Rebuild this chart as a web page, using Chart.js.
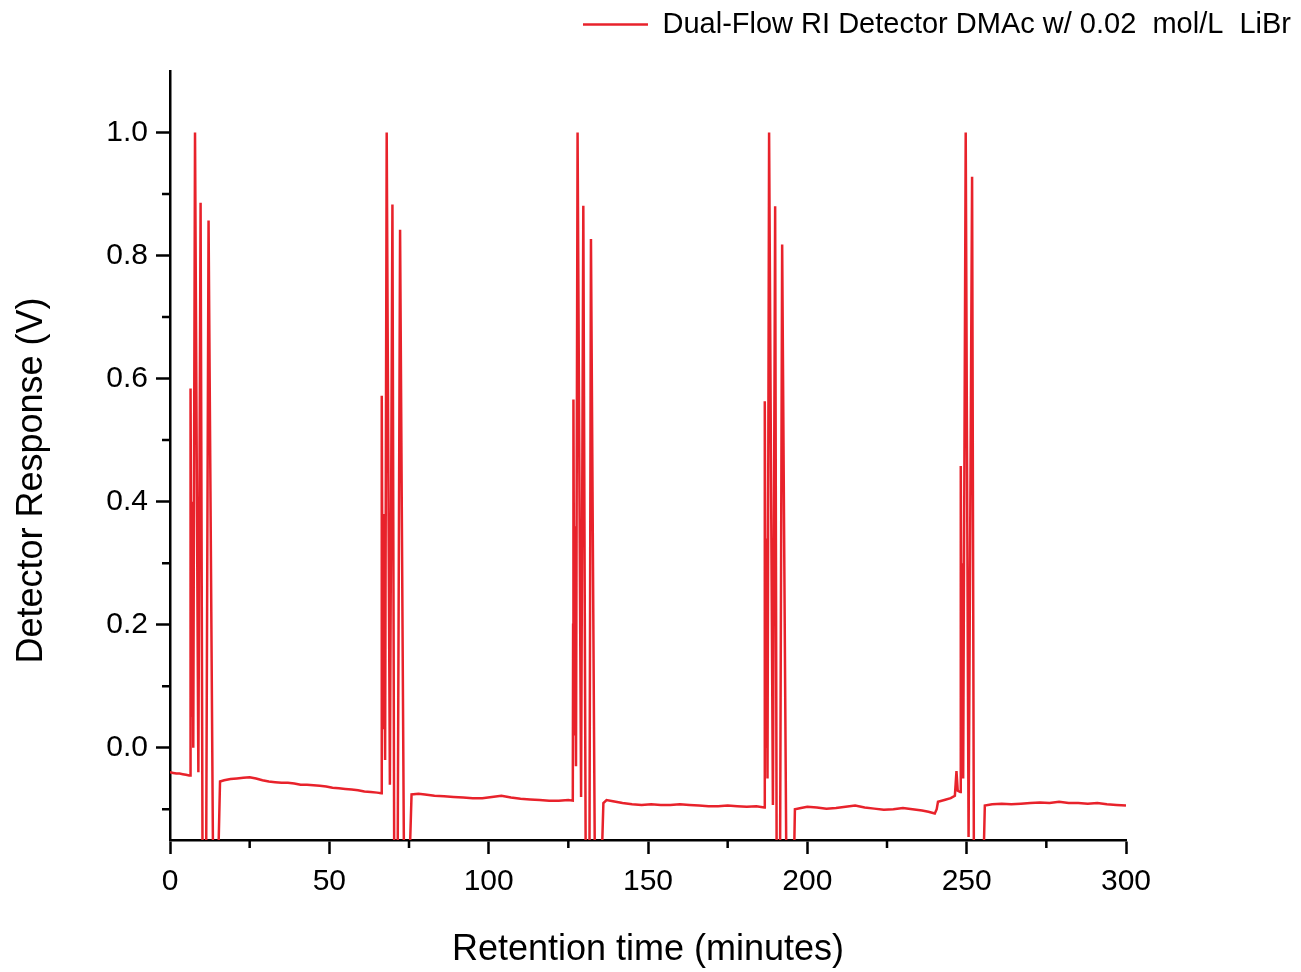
<!DOCTYPE html>
<html>
<head>
<meta charset="utf-8">
<script src="https://cdn.jsdelivr.net/npm/chart.js@4.4.1/dist/chart.umd.min.js"></script>
<style>
  html, body { margin: 0; padding: 0; background: #fff; }
  #wrap { width: 1301px; height: 972px; }
</style>
</head>
<body>
<div id="wrap"><canvas id="riChart" width="1301" height="972"></canvas></div>
<script>
// retention time (min) and detector response (V)
const timeMin = [
    0, 1, 2, 3, 4, 5, 6, 6.3,
    6.4, 6.5, 6.8, 7.0, 7.3, 7.85, 8.9, 9.6, 10.25, 11.3, 12.1, 13.6, 14.85, 15.7,
    17, 19, 21, 23, 25, 27, 29, 31, 33, 35, 37, 39, 41, 43, 45, 47, 49, 51, 53, 55, 57, 59, 61, 63, 65, 66.3,
    66.4, 66.5, 66.8, 67.0, 67.5, 68.0, 69.0, 69.8, 70.4, 71.4, 72.2, 73.5, 74.8, 75.8,
    78, 80, 83, 86, 89, 92, 95, 98, 101, 104, 107, 110, 113, 116, 119, 122, 125, 126.4,
    126.5, 126.6, 126.9, 127.1, 127.4, 127.9, 129.0, 129.7, 130.5, 131.6, 132.1, 133.4, 135.1, 136.0,
    137, 139, 142, 145, 148, 151, 154, 157, 160, 163, 166, 169, 172, 175, 178, 181, 184, 186.5,
    186.6, 186.7, 187.0, 187.2, 187.5, 188.0, 189.2, 189.9, 190.4, 191.4, 192.1, 193.5, 195.6, 196.1,
    198, 200, 203, 206, 209, 212, 215, 218, 221, 224, 227, 230, 233, 236, 238, 240,
    240.6, 241, 243, 245, 246.3, 246.8, 247.2, 248.0,
    248.1, 248.2, 248.5, 248.7, 248.9, 249.7, 250.6, 251.7, 252.3, 255.0, 255.7,
    258, 261, 264, 267, 270, 273, 276, 279, 282, 285, 288, 291, 294, 297, 300
];
const responseV = [
    -0.040, -0.041, -0.042, -0.042, -0.043, -0.044, -0.045, -0.045,
    0.20, 0.584, 0.05, 0.40, 0.0, 1.0, -0.04, 0.886, -0.25, -0.25, 0.857, -0.25, -0.25, -0.055,
    -0.053, -0.051, -0.050, -0.049, -0.048, -0.050, -0.053, -0.055, -0.056, -0.057, -0.057, -0.058, -0.060, -0.060,
    -0.061, -0.062, -0.063, -0.065, -0.066, -0.067, -0.068, -0.069, -0.071, -0.072, -0.073, -0.074,
    0.20, 0.572, 0.03, 0.38, -0.02, 1.0, -0.06, 0.883, -0.25, -0.25, 0.842, -0.25, -0.25, -0.076,
    -0.075, -0.076, -0.078, -0.079, -0.080, -0.081, -0.082, -0.082, -0.080, -0.078, -0.081, -0.083, -0.084,
    -0.085, -0.086, -0.086, -0.085, -0.086,
    0.20, 0.566, 0.02, 0.36, -0.03, 1.0, -0.08, 0.881, -0.25, -0.25, 0.827, -0.25, -0.25, -0.090,
    -0.085, -0.087, -0.090, -0.092, -0.093, -0.092, -0.093, -0.093, -0.092, -0.093, -0.094, -0.095, -0.095,
    -0.094, -0.095, -0.096, -0.095, -0.097,
    0.20, 0.563, 0.0, 0.34, -0.05, 1.0, -0.093, 0.880, -0.25, -0.25, 0.818, -0.25, -0.25, -0.100,
    -0.098, -0.096, -0.097, -0.099, -0.098, -0.096, -0.094, -0.097, -0.099, -0.101, -0.100, -0.098, -0.100,
    -0.102, -0.104, -0.107,
    -0.100, -0.088, -0.085, -0.082, -0.078, -0.038, -0.070, -0.072,
    0.15, 0.458, -0.02, 0.30, -0.05, 1.0, -0.145, 0.928, -0.25, -0.25, -0.094,
    -0.092, -0.091, -0.092, -0.091, -0.090, -0.089, -0.090, -0.088, -0.090, -0.090, -0.091, -0.090, -0.092,
    -0.093, -0.094
];

const seriesLabel = "Dual-Flow RI Detector DMAc w/ 0.02  mol/L  LiBr";

const xMajorTicks = [0, 50, 100, 150, 200, 250, 300];
const xMinorTicks = [25, 75, 125, 175, 225, 275];
const yMajorTicks = [0.0, 0.2, 0.4, 0.6, 0.8, 1.0];
const yMinorTicks = [-0.1, 0.1, 0.3, 0.5, 0.7, 0.9];

const tickFont = { family: "'Liberation Sans', Arial, sans-serif", size: 30 };
const titleFont = { family: "'Liberation Sans', Arial, sans-serif", size: 36 };

// short minor tick marks, placed through the scales
const minorTicks = {
    id: "minorTicks",
    afterDraw(chart) {
        const ctx = chart.ctx;
        const xs = chart.scales.x;
        const ys = chart.scales.y;
        ctx.save();
        ctx.strokeStyle = "#000";
        ctx.lineWidth = 2.5;
        ctx.beginPath();
        xMinorTicks.forEach(v => {
            const px = xs.getPixelForValue(v);
            ctx.moveTo(px, xs.top);
            ctx.lineTo(px, xs.top + 8);
        });
        yMinorTicks.forEach(v => {
            const py = ys.getPixelForValue(v);
            ctx.moveTo(ys.right, py);
            ctx.lineTo(ys.right - 8, py);
        });
        ctx.stroke();
        ctx.restore();
    }
};

const points = timeMin.map((t, i) => ({ x: t, y: responseV[i] }));

new Chart(document.getElementById("riChart"), {
    type: "line",
    data: {
        datasets: [{
            label: seriesLabel,
            data: points,
            borderColor: "#e8222b",
            borderWidth: 2.5,
            pointRadius: 0,
            tension: 0,
            clip: 0
        }]
    },
    options: {
        responsive: false,
        animation: false,
        layout: { padding: 0 },
        plugins: {
            legend: {
                position: "top",
                align: "end",
                labels: {
                    usePointStyle: true,
                    pointStyle: "line",
                    pointStyleWidth: 65,
                    padding: 10,
                    color: "#000",
                    font: { family: "'Liberation Sans', Arial, sans-serif", size: 29 }
                }
            },
            tooltip: { enabled: false }
        },
        scales: {
            x: {
                type: "linear",
                min: 0,
                max: 300,
                afterBuildTicks: s => { s.ticks = xMajorTicks.map(v => ({ value: v })); },
                afterFit: s => { s.height = 132; },
                grid: { drawOnChartArea: false, drawTicks: true, tickLength: 14, tickWidth: 2.5, tickColor: "#000" },
                border: { display: true, color: "#000", width: 2.5 },
                ticks: { color: "#000", font: tickFont, padding: 10, maxRotation: 0, autoSkip: false },
                title: { display: true, text: "Retention time (minutes)", color: "#000", font: titleFont, padding: { top: 0, bottom: 0 } }
            },
            y: {
                min: -0.15,
                max: 1.1,
                afterBuildTicks: s => { s.ticks = yMajorTicks.map(v => ({ value: v })); },
                afterFit: s => { s.width = 170; },
                grid: { drawOnChartArea: false, drawTicks: true, tickLength: 14, tickWidth: 2.5, tickColor: "#000" },
                border: { display: true, color: "#000", width: 2.5 },
                ticks: { color: "#000", font: tickFont, padding: 8, callback: v => v.toFixed(1) },
                title: { display: true, text: "Detector Response (V)\u00a0\u00a0\u00a0\u00a0\u00a0", color: "#000", font: titleFont, padding: { top: 10, bottom: 0 } }
            },
            // empty axes that only hold the margins right and above the plot
            xTop: {
                type: "linear",
                position: "top",
                grid: { display: false },
                border: { display: false },
                ticks: { display: false },
                afterFit: s => { s.height = 22; }
            },
            yRight: {
                type: "linear",
                position: "right",
                grid: { display: false },
                border: { display: false },
                ticks: { display: false },
                afterFit: s => { s.width = 175; }
            }
        }
    },
    plugins: [minorTicks]
});
</script>
</body>
</html>
